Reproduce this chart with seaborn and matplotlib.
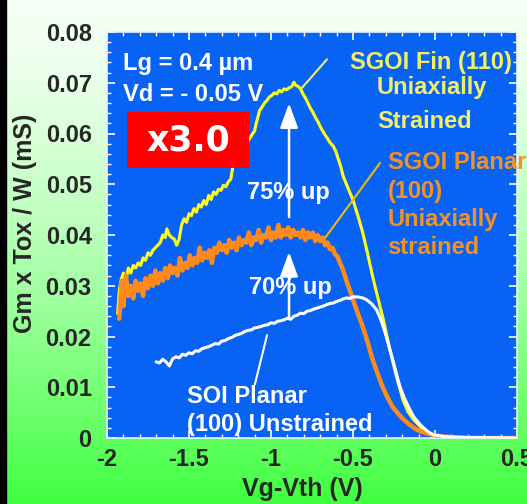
import numpy as np
import pandas as pd
import seaborn as sns
import matplotlib
matplotlib.use("Agg")
import matplotlib.pyplot as plt
from matplotlib.patches import Rectangle

# Gm x Tox / W versus Vg-Vth
fin_vg = [-1.935, -1.925, -1.915, -1.90, -1.885, -1.87, -1.855, -1.84, -1.825, -1.81,
          -1.795, -1.78, -1.765, -1.75, -1.735, -1.72, -1.705, -1.69, -1.675, -1.66,
          -1.645, -1.635, -1.62, -1.605, -1.59, -1.575, -1.56, -1.545, -1.53, -1.515,
          -1.50, -1.485, -1.47, -1.455, -1.44, -1.425, -1.41, -1.395, -1.38, -1.365,
          -1.35, -1.335, -1.32, -1.305, -1.29, -1.275, -1.26, -1.245, -1.235, -1.225,
          -1.215, -1.20, -1.18, -1.16, -1.145, -1.13, -1.115, -1.10, -1.09, -1.08,
          -1.07, -1.055, -1.04, -1.025, -1.01, -0.995, -0.98, -0.965, -0.95, -0.935,
          -0.92, -0.905, -0.89, -0.875, -0.86, -0.85, -0.835, -0.82, -0.805, -0.79,
          -0.775, -0.76, -0.745, -0.73, -0.715, -0.70, -0.685, -0.67, -0.655, -0.64,
          -0.62, -0.605, -0.59, -0.575, -0.56, -0.53, -0.50, -0.47, -0.44, -0.41,
          -0.38, -0.355, -0.315, -0.275, -0.235, -0.195, -0.165, -0.13, -0.07, -0.01,
          0.09, 0.5]
fin_gm = [0.0245, 0.029, 0.031, 0.0325, 0.031, 0.0335, 0.0325, 0.034, 0.0335, 0.0345,
          0.034, 0.0355, 0.035, 0.0365, 0.036, 0.037, 0.0375, 0.038, 0.0385, 0.040,
          0.0395, 0.0412, 0.040, 0.0395, 0.0392, 0.038, 0.0392, 0.042, 0.0432, 0.0425,
          0.0442, 0.0438, 0.0452, 0.0445, 0.046, 0.0455, 0.0468, 0.046, 0.0478, 0.047,
          0.0485, 0.048, 0.049, 0.0488, 0.0498, 0.0495, 0.0505, 0.051, 0.053, 0.0555,
          0.056, 0.0565, 0.057, 0.0578, 0.0585, 0.059, 0.0598, 0.0605, 0.062, 0.0632,
          0.0645, 0.0652, 0.066, 0.0665, 0.0672, 0.0675, 0.068, 0.0678, 0.0685, 0.0682,
          0.0688, 0.0686, 0.069, 0.0692, 0.0701, 0.0695, 0.0693, 0.0688, 0.0678, 0.0670,
          0.0660, 0.0650, 0.0642, 0.0632, 0.0624, 0.0614, 0.0605, 0.0597, 0.0590, 0.0582,
          0.0575, 0.0565, 0.0550, 0.0535, 0.0516, 0.0492, 0.0469, 0.0438, 0.0404, 0.0362,
          0.0318, 0.0285, 0.0233, 0.0174, 0.0121, 0.0075, 0.0052, 0.0036, 0.0016, 0.0006,
          0.0001, 0.0]

planar_vg = [-1.925, -1.91, -1.90, -1.885, -1.87, -1.855, -1.84, -1.825, -1.81, -1.795,
             -1.78, -1.765, -1.75, -1.735, -1.72, -1.705, -1.69, -1.675, -1.66, -1.645,
             -1.63, -1.615, -1.60, -1.585, -1.57, -1.555, -1.54, -1.525, -1.51, -1.495,
             -1.48, -1.465, -1.45, -1.435, -1.42, -1.405, -1.39, -1.375, -1.36, -1.345,
             -1.33, -1.315, -1.30, -1.285, -1.27, -1.255, -1.24, -1.225, -1.21, -1.195,
             -1.18, -1.165, -1.15, -1.135, -1.12, -1.105, -1.09, -1.075, -1.06, -1.045,
             -1.03, -1.015, -1.0, -0.985, -0.97, -0.955, -0.94, -0.925, -0.91, -0.895,
             -0.88, -0.865, -0.85, -0.835, -0.82, -0.805, -0.79, -0.775, -0.76, -0.745,
             -0.73, -0.715, -0.70, -0.685, -0.67, -0.655, -0.64, -0.625, -0.61, -0.595,
             -0.58, -0.565, -0.55, -0.535, -0.52, -0.50, -0.47, -0.44, -0.41, -0.38,
             -0.35, -0.32, -0.29, -0.26, -0.22, -0.19, -0.15, -0.11, -0.06, -0.01,
             0.05, 0.15, 0.3, 0.5]
planar_gm = [0.0235, 0.031, 0.026, 0.032, 0.028, 0.030, 0.0275, 0.031, 0.029, 0.0305,
             0.028, 0.0315, 0.0295, 0.032, 0.030, 0.033, 0.0305, 0.0325, 0.031, 0.0335,
             0.0315, 0.034, 0.0325, 0.0335, 0.032, 0.0355, 0.033, 0.0345, 0.0335, 0.036,
             0.034, 0.0355, 0.0345, 0.0375, 0.035, 0.0365, 0.0355, 0.037, 0.0345, 0.0375,
             0.0365, 0.0385, 0.037, 0.038, 0.0365, 0.039, 0.0375, 0.0385, 0.037, 0.0395,
             0.038, 0.039, 0.0385, 0.0405, 0.038, 0.0395, 0.039, 0.041, 0.0385, 0.040,
             0.0395, 0.0415, 0.039, 0.0405, 0.0395, 0.042, 0.0395, 0.041, 0.040, 0.0415,
             0.0395, 0.041, 0.040, 0.0405, 0.0395, 0.041, 0.039, 0.0405, 0.0395, 0.0405,
             0.0388, 0.040, 0.0388, 0.0395, 0.0380, 0.0385, 0.0372, 0.0375, 0.0362, 0.0358,
             0.0345, 0.0335, 0.0320, 0.0305, 0.0292, 0.0272, 0.0245, 0.0219, 0.0188, 0.0154,
             0.0127, 0.0101, 0.0080, 0.0062, 0.0046, 0.0036, 0.0025, 0.0016, 0.0010, 0.0006,
             0.0003, 0.0001, 0.0, 0.0]

soi_vg = [-1.70, -1.68, -1.66, -1.64, -1.62, -1.60, -1.58, -1.56, -1.54, -1.52,
          -1.50, -1.48, -1.46, -1.44, -1.42, -1.40, -1.38, -1.36, -1.34, -1.32,
          -1.30, -1.28, -1.26, -1.24, -1.22, -1.20, -1.18, -1.16, -1.14, -1.12,
          -1.10, -1.08, -1.06, -1.04, -1.02, -1.00, -0.98, -0.96, -0.94, -0.92,
          -0.90, -0.88, -0.86, -0.84, -0.82, -0.80, -0.78, -0.76, -0.74, -0.72,
          -0.70, -0.68, -0.66, -0.64, -0.62, -0.60, -0.58, -0.56, -0.54, -0.52,
          -0.50, -0.47, -0.44, -0.415, -0.385, -0.355, -0.335, -0.315, -0.295, -0.275,
          -0.25, -0.23, -0.21, -0.19, -0.16, -0.13, -0.10, -0.07, -0.04, -0.01,
          0.05, 0.18, 0.5]
soi_gm = [0.0150, 0.0148, 0.0155, 0.0150, 0.0142, 0.0156, 0.0160, 0.0158, 0.0165, 0.0163,
          0.0168, 0.0166, 0.0172, 0.0171, 0.0176, 0.0178, 0.0180, 0.0183, 0.0186, 0.0185,
          0.0191, 0.0192, 0.0196, 0.0198, 0.0202, 0.0204, 0.0206, 0.0210, 0.0212, 0.0213,
          0.0217, 0.0218, 0.0220, 0.0222, 0.0223, 0.0227, 0.0226, 0.0230, 0.0231, 0.0233,
          0.0236, 0.0234, 0.0240, 0.0242, 0.0246, 0.0245, 0.0250, 0.0251, 0.0254, 0.0256,
          0.0258, 0.0260, 0.0263, 0.0265, 0.0266, 0.0269, 0.0271, 0.0274, 0.0276, 0.0275,
          0.0278, 0.0278, 0.0276, 0.0272, 0.0264, 0.0252, 0.0237, 0.0219, 0.0197, 0.0174,
          0.0145, 0.0120, 0.0098, 0.0081, 0.0060, 0.0042, 0.0030, 0.0020, 0.0012, 0.0006,
          0.0003, 0.0001, 0.0]

x_ticks = [-2, -1.5, -1, -0.5, 0, 0.5]
x_tick_labels = ["-2", "-1.5", "-1", "-0.5", "0", "0.5"]
y_ticks = [0, 0.01, 0.02, 0.03, 0.04, 0.05, 0.06, 0.07, 0.08]
y_tick_labels = ["0", "0.01", "0.02", "0.03", "0.04", "0.05", "0.06", "0.07", "0.08"]

sns.set_style("ticks")
plt.rcParams["font.family"] = ["Liberation Sans", "DejaVu Sans"]
plt.rcParams["axes.unicode_minus"] = False

BLUE = "#0863f4"
YELLOW = "#ffff1a"
ORANGE = "#ff8a1c"
YELLOW_TXT = "#f2f068"
ORANGE_TXT = "#f39223"

fig = plt.figure(figsize=(5.27, 5.04), dpi=100)

# white-to-green backdrop (stays pale longer at the top) and the black strip on the left
bg = fig.add_axes([0, 0, 1, 1], zorder=0)
grad = (np.linspace(0, 1, 256) ** 1.4)[:, None]
top = np.array([0.965, 1.0, 0.965])
bottom = np.array([0.25, 1.0, 0.25])
bg.imshow(top + grad[..., None] * (bottom - top), aspect="auto", extent=[0, 1, 0, 1])
bg.set_axis_off()
fig.patches.append(Rectangle((0, 0), 6 / 527, 1, transform=fig.transFigure,
                             color="black", zorder=5))

ax = fig.add_axes([107 / 527, 66 / 504, 410 / 527, 406 / 504], zorder=1)
ax.set_facecolor(BLUE)

sns.lineplot(x=fin_vg, y=fin_gm, ax=ax, color=YELLOW, lw=2.2, zorder=3)
sns.lineplot(x=planar_vg, y=planar_gm, ax=ax, color=ORANGE, lw=3.2, zorder=4)
sns.lineplot(x=soi_vg, y=soi_gm, ax=ax, color="white", lw=2.2, zorder=5)

ax.set_xlim(-2, 0.5)
ax.set_ylim(0, 0.08)
ax.set_xticks(x_ticks)
ax.set_xticklabels(x_tick_labels)
ax.set_yticks(y_ticks)
ax.set_yticklabels(y_tick_labels)
ax.set_xticks(np.arange(-2, 0.51, 0.1), minor=True)
ax.set_yticks(np.arange(0, 0.0801, 0.002), minor=True)
ax.tick_params(which="both", direction="in", color="white", top=True, right=True,
               labelsize=17)
ax.tick_params(which="major", length=6, width=1.2)
ax.tick_params(which="minor", length=3, width=1)
ax.tick_params(axis="y", pad=11)
ax.tick_params(axis="x", pad=7)
for lab in ax.get_xticklabels() + ax.get_yticklabels():
    lab.set_fontweight("bold")
for sp in ax.spines.values():
    sp.set_color("#e8f4ff")
    sp.set_linewidth(1.2)

ax.set_xlabel("Vg-Vth (V)", fontsize=18, fontweight="bold")
ax.set_ylabel("Gm x Tox / W (mS)", fontsize=18, fontweight="bold")
ax.xaxis.set_label_coords(0.476, -0.095)
ax.yaxis.set_label_coords(-0.17, 0.53)

txt = dict(fontsize=17, fontweight="bold", va="center", ha="left", zorder=6)
ax.text(-1.902, 0.0738, "Lg = 0.4 \u00b5m", color="white", **txt)
ax.text(-1.905, 0.0677, "Vd = - 0.05 V", color="white", **txt)
ax.text(-0.518, 0.0740, "SGOI Fin (110)", color=YELLOW_TXT, **txt)
ax.text(-0.354, 0.0690, "Uniaxially", color=YELLOW_TXT, **txt)
ax.text(-0.354, 0.0623, "Strained", color=YELLOW_TXT, **txt)
ax.text(-0.287, 0.0542, "SGOI Planar", color=ORANGE_TXT, clip_on=False, **txt)
ax.text(-0.290, 0.0485, "(100)", color=ORANGE_TXT, **txt)
ax.text(-0.290, 0.0430, "Uniaxially", color=ORANGE_TXT, **txt)
ax.text(-0.290, 0.0375, "strained", color=ORANGE_TXT, **txt)
ax.text(-1.146, 0.0483, "75% up", color="white", **txt)
ax.text(-1.134, 0.0296, "70% up", color="white", **txt)
ax.text(-1.512, 0.0081, "SOI Planar", color="white", **txt)
ax.text(-1.512, 0.0026, "(100) Unstrained", color="white", **txt)

# leader lines
ax.plot([-0.811, -0.659], [0.0690, 0.0746], color=YELLOW_TXT, lw=1.5, zorder=6)
ax.plot([-0.671, -0.335], [0.0394, 0.0542], color="#e9b90e", lw=1.5, zorder=6)
ax.plot([-1.024, -1.098], [0.0203, 0.0106], color="white", lw=1.5, zorder=6)

# arrows
arr = dict(arrowstyle="-|>,head_length=1.5,head_width=0.55", color="white", lw=1.8)
ax.annotate("", xy=(-0.89, 0.0665), xytext=(-0.89, 0.0430), arrowprops=arr, zorder=6)
ax.annotate("", xy=(-0.89, 0.0372), xytext=(-0.89, 0.0233), arrowprops=arr, zorder=6)

# red "x3.0" box
ax.add_patch(Rectangle((0.049, 0.665), 0.297, 0.138, transform=ax.transAxes,
                       fc="#ff0000", ec="none", zorder=7))
ax.text(0.198, 0.733, "x3.0", color="white", fontsize=25, fontweight="bold",
        family="DejaVu Sans", ha="center", va="center", zorder=8,
        transform=ax.transAxes)

fig.savefig("out.png", dpi=100)
